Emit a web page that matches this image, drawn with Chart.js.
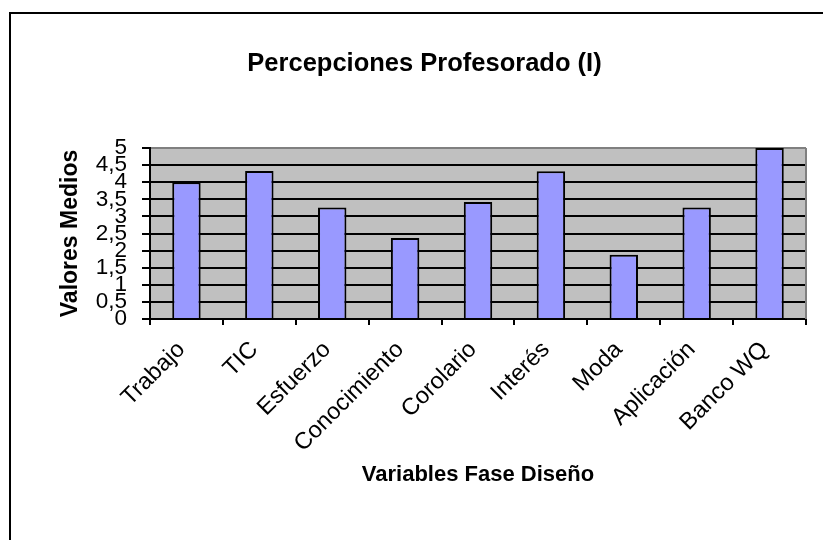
<!DOCTYPE html>
<html>
<head>
<meta charset="utf-8">
<script src="https://cdn.jsdelivr.net/npm/chart.js@4/dist/chart.umd.min.js"></script>
<style>
html,body{margin:0;padding:0;background:#fff;}
#wrap{width:823px;height:540px;position:relative;}
</style>
</head>
<body>
<div id="wrap"><canvas id="c"></canvas></div>
<script>
const categories = ['Trabajo', 'TIC', 'Esfuerzo', 'Conocimiento', 'Corolario', 'Interés', 'Moda', 'Aplicación', 'Banco WQ'];
const valoresMedios = [4.0, 4.33, 3.26, 2.37, 3.42, 4.32, 1.88, 3.26, 5.0];
const yTickLabels = ['0', '0,5', '1', '1,5', '2', '2,5', '3', '3,5', '4', '4,5', '5'];
const chartTitle = 'Percepciones Profesorado (I)';
const xTitle = 'Variables Fase Diseño';
const yTitle = 'Valores Medios';

const FONT = "'Liberation Sans', Arial, sans-serif";

const decor = {
  id: 'decor',
  beforeDraw(chart) {
    const ctx = chart.ctx, a = chart.chartArea;
    ctx.save();
    ctx.fillStyle = '#fff';
    ctx.fillRect(0, 0, chart.width, chart.height);
    ctx.strokeStyle = '#000';
    ctx.lineWidth = 2;
    ctx.strokeRect(10, 13, 900, 600);
    ctx.fillStyle = '#C0C0C0';
    ctx.fillRect(a.left, a.top, a.right - a.left, a.bottom - a.top);
    ctx.restore();
  },
  beforeDatasetsDraw(chart) {
    const ctx = chart.ctx, a = chart.chartArea;
    ctx.save();
    ctx.strokeStyle = '#808080';
    ctx.lineWidth = 2;
    ctx.beginPath();
    ctx.moveTo(a.right, a.top);
    ctx.lineTo(a.right, a.bottom);
    ctx.stroke();
    ctx.restore();
  }
};

new Chart(document.getElementById('c'), {
  type: 'bar',
  data: {
    labels: categories,
    datasets: [{
      data: valoresMedios,
      backgroundColor: '#9999FF',
      borderColor: '#000',
      borderWidth: 2,
      barPercentage: 0.39,
      categoryPercentage: 1
    }]
  },
  options: {
    responsive: true,
    maintainAspectRatio: false,
    animation: false,
    layout: { padding: { left: 43, right: 17, top: 0, bottom: 0 } },
    plugins: {
      legend: { display: false },
      tooltip: { enabled: false },
      title: {
        display: true,
        text: chartTitle,
        color: '#000',
        font: { family: FONT, size: 25.5, weight: 'bold', lineHeight: 1.2 },
        padding: { top: 48.4, bottom: 69 }
      }
    },
    scales: {
      x: {
        grid: { display: true, drawOnChartArea: false, drawTicks: true, tickLength: 6, color: '#000', lineWidth: 2, offset: true },
        border: { display: true, color: '#000', width: 2 },
        ticks: {
          color: '#000',
          font: { family: FONT, size: 23.5 },
          maxRotation: 45, minRotation: 45, autoSkip: false, padding: 11, labelOffset: -5
        },
        title: {
          display: true, text: xTitle, color: '#000',
          font: { family: FONT, size: 22, weight: 'bold', lineHeight: 1.2 },
          padding: { top: 0, bottom: 51.8 }
        },
        afterFit(scale) { scale.height = 221; }
      },
      y: {
        min: 0, max: 5,
        grid: {
          color: (c) => (c.tick && c.tick.value === 5 ? '#808080' : '#000'),
          tickColor: '#000',
          lineWidth: 2, tickLength: 8, drawTicks: true
        },
        border: { display: true, color: '#000', width: 2 },
        ticks: {
          stepSize: 0.5, autoSkip: false, color: '#000', padding: 15,
          font: { family: FONT, size: 22.5, lineHeight: 1 },
          callback: (v, i) => yTickLabels[i]
        },
        title: {
          display: true, text: yTitle, color: '#000',
          font: { family: FONT, size: 23, weight: 'bold', lineHeight: 1.2 },
          padding: { top: 14.2, bottom: 0 }
        },
        afterFit(scale) { scale.width = 107; }
      }
    }
  },
  plugins: [decor]
});
</script>
</body>
</html>
